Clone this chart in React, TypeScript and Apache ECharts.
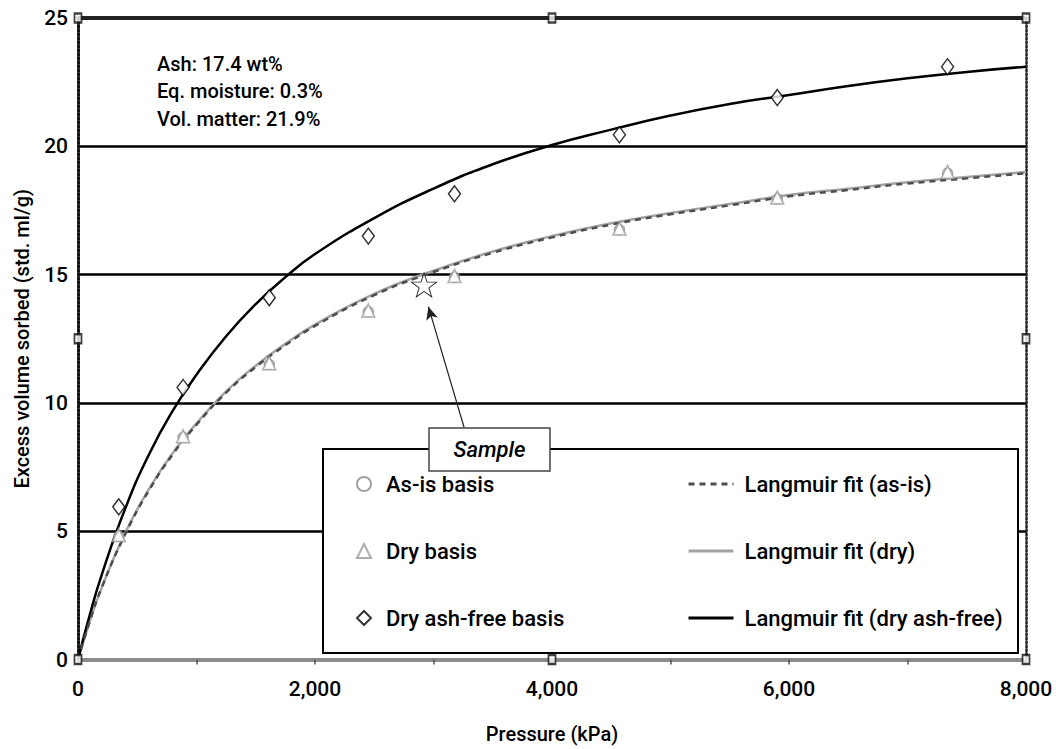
import React, { useEffect, useRef } from "react";
import * as echarts from "echarts";

// Measured points (pressure in kPa)
const samplePressure = [344, 887, 1614, 2450, 3177, 4569, 5901, 7338];
const asIsBasis = [4.8, 8.65, 11.5, 13.55, 14.9, 16.75, 17.95, 18.95];
const dryBasis = [4.85, 8.7, 11.55, 13.6, 14.95, 16.8, 18.0, 19.0];
const dafBasis = [5.95, 10.6, 14.1, 16.5, 18.15, 20.45, 21.9, 23.1];

// Fitted curves
const fitPressure = [0, 100, 200, 400, 600, 800, 1000, 1250, 1500, 1750, 2000, 2500, 3000, 3500, 4000, 4500, 5000, 5500, 6000, 6500, 7000, 7500, 8000];
const asIsFit = [0, 1.5, 2.8, 4.9, 6.6, 8.0, 9.15, 10.4, 11.4, 12.25, 13.0, 14.2, 15.1, 15.85, 16.45, 16.95, 17.35, 17.7, 18.05, 18.3, 18.55, 18.75, 18.95];
const dryFit = [0, 1.5, 2.8, 4.95, 6.65, 8.05, 9.2, 10.45, 11.45, 12.3, 13.05, 14.25, 15.15, 15.9, 16.5, 17.0, 17.4, 17.75, 18.1, 18.35, 18.6, 18.8, 19.0];
const dafFit = [0, 1.75, 3.3, 5.9, 8.0, 9.7, 11.1, 12.6, 13.85, 14.9, 15.8, 17.2, 18.35, 19.3, 20.05, 20.65, 21.2, 21.65, 22.0, 22.35, 22.65, 22.9, 23.1];

// Sample star, arrow tail and arrow tip
const samplePoint = [2920, 14.6];
const arrowTail = [3259, 9.03];
const arrowTip = [2957, 13.75];

// Frame marker squares
const frameMarkX = [0, 4000, 8000, 0, 8000, 0, 4000, 8000];
const frameMarkY = [25, 25, 25, 12.5, 12.5, 0, 0, 0];

const xTicks = { min: 0, max: 8000, interval: 2000 };
const yTicks = { min: 0, max: 25, interval: 5 };

const annotationLines = ["Ash: 17.4 wt%", "Eq. moisture: 0.3%", "Vol. matter: 21.9%"];

const legendLeft = ["As-is basis", "Dry basis", "Dry ash-free basis"];
const legendRight = ["Langmuir fit (as-is)", "Langmuir fit (dry)", "Langmuir fit (dry ash-free)"];

const FONT = "Roboto, 'Noto Sans', sans-serif";
const FW = 500;
const STAR = "path://M50,0L61.8,35.1L98.1,35.1L68.8,56.7L79.4,91L50,70L20.6,91L31.2,56.7L1.9,35.1L38.2,35.1Z";

const zip = (xs: number[], ys: number[]) => xs.map((x, i) => [x, ys[i]]);

export default function App() {
  const ref = useRef<HTMLDivElement>(null);
  useEffect(() => {
    if (!ref.current) return;
    const chart = echarts.init(ref.current, undefined, { renderer: "svg" });
    const hollow = (c: string, w = 1.5) => ({ color: "#fff", borderColor: c, borderWidth: w });
    const legendText = (pad: number) => ({
      fontSize: 22,
      lineHeight: 24,
      color: "#000",
      fontFamily: FONT,
      fontWeight: FW,
      padding: [0, 0, 0, pad],
    });
    chart.setOption({
      animation: false,
      backgroundColor: "#fff",
      textStyle: { fontFamily: FONT, color: "#000" },
      grid: { left: 78, right: 30, top: 18, bottom: 89.5, containLabel: false },
      xAxis: [
        {
          type: "value",
          min: xTicks.min,
          max: xTicks.max,
          interval: xTicks.interval,
          name: "Pressure (kPa)",
          nameLocation: "middle",
          nameGap: 64,
          nameTextStyle: { fontSize: 20, color: "#000", fontFamily: FONT, fontWeight: FW },
          axisLine: { show: true, onZero: false, lineStyle: { color: "#8c8c8c", width: 4 } },
          axisTick: { show: true, length: 5, lineStyle: { color: "#555", width: 1.5 } },
          minorTick: { show: true, splitNumber: 2, length: 5, lineStyle: { color: "#555", width: 1.5 } },
          splitLine: { show: false },
          axisLabel: {
            fontSize: 21,
            color: "#000",
            margin: 19,
            fontFamily: FONT,
            fontWeight: FW,
            formatter: (v: number) => v.toLocaleString("en-US"),
          },
        },
        {
          type: "value",
          position: "top",
          min: xTicks.min,
          max: xTicks.max,
          axisLine: { show: true, onZero: false, lineStyle: { color: "#222", width: 4, type: [1.5, 1.5] } },
          axisTick: { show: false },
          axisLabel: { show: false },
          splitLine: { show: false },
        },
      ],
      yAxis: [
        {
          type: "value",
          min: yTicks.min,
          max: yTicks.max,
          interval: yTicks.interval,
          name: "Excess volume sorbed (std. ml/g)",
          nameLocation: "middle",
          nameGap: 46,
          nameTextStyle: { fontSize: 20, color: "#000", fontFamily: FONT, fontWeight: FW },
          axisLine: { show: true, onZero: false, lineStyle: { color: "#111", width: 3, type: [2, 2] } },
          axisTick: { show: false },
          axisLabel: { fontSize: 21, color: "#000", margin: 10, fontFamily: FONT, fontWeight: FW },
          splitLine: { show: true, showMinLine: false, showMaxLine: false, lineStyle: { color: "#000", width: 2.5 } },
        },
        {
          type: "value",
          position: "right",
          min: yTicks.min,
          max: yTicks.max,
          interval: yTicks.interval,
          axisLine: { show: true, onZero: false, lineStyle: { color: "#222", width: 2.5, type: [2, 2] } },
          axisTick: { show: false },
          axisLabel: { show: false },
          splitLine: { show: false },
        },
      ],
      legend: [
        {
          data: legendLeft,
          orient: "vertical",
          left: 356,
          top: 472,
          padding: 0,
          itemWidth: 14,
          itemHeight: 14,
          itemGap: 43,
          z: 100,
          selectedMode: false,
          textStyle: legendText(10),
        },
        {
          data: legendRight,
          orient: "vertical",
          left: 687,
          top: 472,
          padding: 0,
          itemWidth: 45,
          itemHeight: 14,
          itemGap: 43,
          z: 100,
          selectedMode: false,
          itemStyle: { color: "rgba(0,0,0,0)", borderColor: "rgba(0,0,0,0)", borderWidth: 0, opacity: 0 },
          lineStyle: { width: 3 },
          textStyle: legendText(6),
        },
      ],
      graphic: [
        {
          type: "rect",
          z: 50,
          shape: { x: 323, y: 449, width: 695, height: 204 },
          style: { fill: "#fff", stroke: "#000", lineWidth: 2 },
        },
        {
          type: "rect",
          z: 60,
          shape: { x: 429, y: 428, width: 121, height: 43 },
          style: { fill: "#fff", stroke: "#444", lineWidth: 1.5 },
        },
        {
          type: "text",
          z: 61,
          x: 489.5,
          y: 449.5,
          style: {
            text: "Sample",
            fontSize: 22,
            fontStyle: "italic",
            fontWeight: FW,
            fontFamily: FONT,
            fill: "#000",
            align: "center",
            verticalAlign: "middle",
          },
        },
        {
          type: "text",
          z: 61,
          x: 157,
          y: 50,
          style: {
            text: annotationLines.join("\n"),
            fontSize: 20,
            lineHeight: 27.5,
            fontWeight: FW,
            fontFamily: FONT,
            fill: "#000",
          },
        },
      ],
      series: [
        {
          name: "Langmuir fit (as-is)",
          type: "line",
          data: zip(fitPressure, asIsFit),
          symbol: "none",
          smooth: true,
          z: 3,
          lineStyle: { color: "#4d4d4d", width: 2.5, type: [6, 5] },
          itemStyle: { color: "#4d4d4d" },
        },
        {
          name: "Langmuir fit (dry)",
          type: "line",
          data: zip(fitPressure, dryFit),
          symbol: "none",
          smooth: true,
          z: 2,
          lineStyle: { color: "#a3a3a3", width: 2.5 },
          itemStyle: { color: "#a3a3a3" },
        },
        {
          name: "Langmuir fit (dry ash-free)",
          type: "line",
          data: zip(fitPressure, dafFit),
          symbol: "none",
          smooth: true,
          z: 2,
          lineStyle: { color: "#000", width: 2.5 },
          itemStyle: { color: "#000" },
        },
        {
          name: "As-is basis",
          type: "scatter",
          data: zip(samplePressure, asIsBasis),
          symbol: "circle",
          symbolSize: 10,
          z: 4,
          itemStyle: hollow("#888"),
        },
        {
          name: "Dry basis",
          type: "scatter",
          data: zip(samplePressure, dryBasis),
          symbol: "triangle",
          symbolSize: 13,
          z: 5,
          itemStyle: hollow("#999"),
        },
        {
          name: "Dry ash-free basis",
          type: "scatter",
          data: zip(samplePressure, dafBasis),
          symbol: "diamond",
          symbolSize: [12, 16],
          z: 5,
          itemStyle: hollow("#000"),
        },
        {
          name: "Sample point",
          type: "scatter",
          data: [samplePoint],
          symbol: STAR,
          symbolSize: [25, 24],
          z: 6,
          itemStyle: hollow("#000", 1),
          markLine: {
            silent: true,
            symbol: ["none", "arrow"],
            symbolSize: [9, 13],
            label: { show: false },
            lineStyle: { color: "#222", width: 1.2, type: "solid" },
            data: [[{ coord: arrowTail }, { coord: arrowTip }]],
          },
        },
        {
          name: "frame",
          type: "scatter",
          data: zip(frameMarkX, frameMarkY),
          symbol: "rect",
          symbolSize: [7, 9],
          clip: false,
          silent: true,
          z: 7,
          itemStyle: hollow("#111", 2),
        },
      ],
    });
    return () => chart.dispose();
  }, []);
  return <div ref={ref} style={{ position: "fixed", left: 0, top: 0, width: 1056, height: 749 }} />;
}
